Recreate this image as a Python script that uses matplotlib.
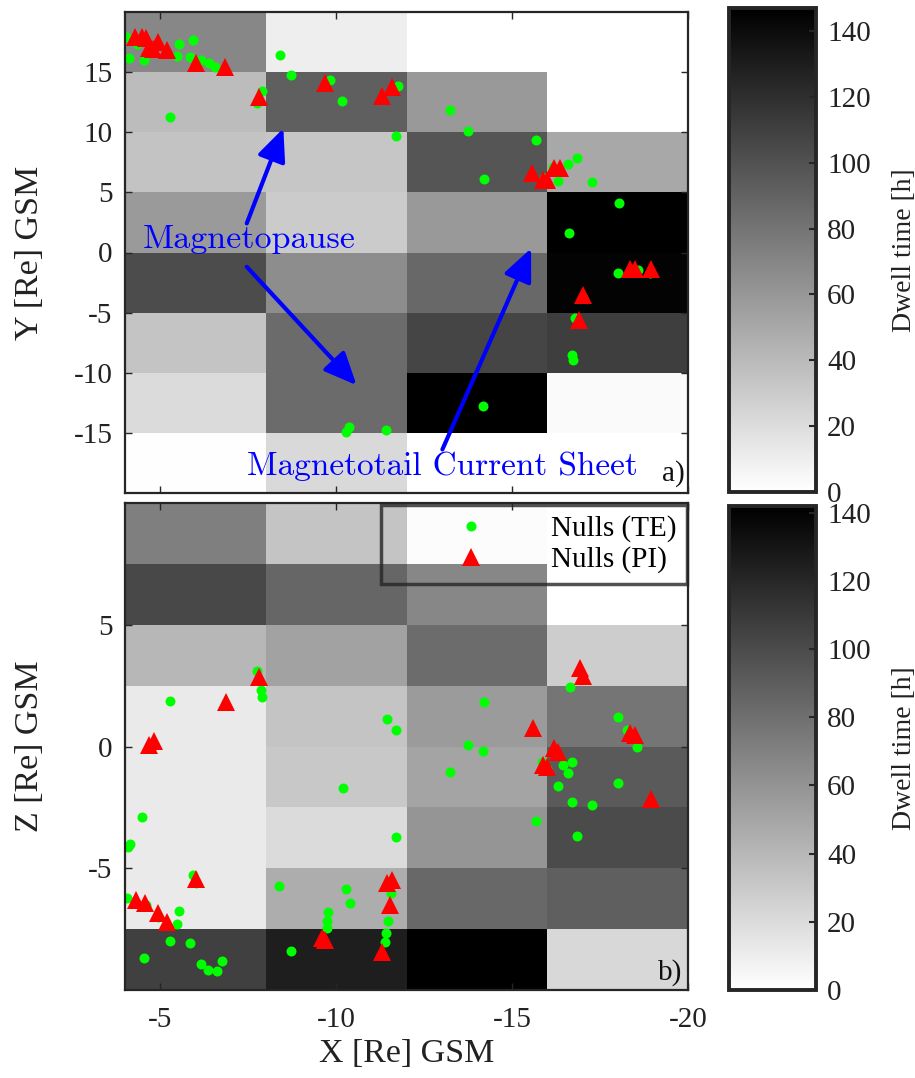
import numpy as np
import matplotlib
matplotlib.use('Agg')
import matplotlib.pyplot as plt

plt.rcParams['font.family'] = ['Liberation Serif', 'DejaVu Serif']
plt.rcParams['axes.unicode_minus'] = False

# ---------------- data ----------------
x_edges = [-4, -8, -12, -16, -20]
y_edges = [20, 15, 10, 5, 0, -5, -10, -15, -20]
z_edges = [10, 7.5, 5, 2.5, 0, -2.5, -5, -7.5, -10]

# dwell time [h], rows top -> bottom, columns X = -4..-8, -8..-12, -12..-16, -16..-20
dwell_xy = [
    [69, 10, 0, 0],
    [39, 92, 59, 0],
    [35, 33, 98, 50],
    [58, 30, 59, 150],
    [103, 66, 87, 145],
    [34, 85, 107, 111],
    [21, 85, 150, 3],
    [1, 22, 0, 0],
]
dwell_xz = [
    [71, 33, 2, 0],
    [102, 85, 67, 0],
    [40, 52, 82, 28],
    [12, 33, 56, 77],
    [12, 31, 51, 92],
    [12, 20, 59, 100],
    [12, 46, 84, 89],
    [106, 125, 145, 22],
]
vmax_xy = 147
vmax_xz = 142
cbar_ticks = [0, 20, 40, 60, 80, 100, 120, 140]

# nulls (TE) in X-Y plane
te_xy_x = [-4.03, -4.12, -4.54, -4.35, -5.54, -5.94, -5.49, -5.85, -6.15, -6.40, -6.56,
           -5.28, -7.88, -7.76, -8.40, -8.72, -9.83, -10.18, -11.75, -11.69, -13.25,
           -13.76, -14.21, -14.16, -10.37, -10.27, -11.43, -15.68, -16.84, -16.58,
           -16.31, -17.26, -18.04, -16.63, -18.00, -17.02, -16.79, -16.69, -16.72,
           -18.59, -18.92, -16.17, -15.90]
te_xy_y = [17.95, 16.15, 16.00, 17.30, 17.34, 17.67, 16.34, 16.28, 16.00, 15.80, 15.45,
           11.24, 13.40, 12.45, 16.42, 14.76, 14.34, 12.62, 13.84, 9.68, 11.87,
           10.13, 6.08, -12.78, -14.50, -14.92, -14.72, 9.35, 7.83, 7.35,
           5.97, 5.83, 4.08, 1.59, -1.74, -3.82, -5.48, -8.54, -8.95,
           -1.46, -1.74, 7.13, 6.20]
# nulls (PI) in X-Y plane
pi_xy_x = [-4.28, -4.47, -4.60, -4.69, -4.95, -4.80, -5.18, -6.02, -6.84, -7.81, -9.68,
           -11.29, -11.60, -15.57, -15.89, -16.00, -16.20, -16.36, -18.35, -18.49,
           -18.95, -17.02, -16.91]
pi_xy_y = [17.90, 17.95, 17.80, 16.98, 17.53, 16.90, 16.84, 15.78, 15.45, 12.90, 14.07,
           13.00, 13.73, 6.63, 6.02, 6.00, 7.00, 7.00, -1.41, -1.41,
           -1.41, -3.55, -5.63]

# nulls (TE) in X-Z plane
te_xz_x = [-7.74, -7.86, -7.88, -5.28, -4.47, -4.14, -4.09, -5.92, -6.02, -4.07, -5.54,
           -5.49, -5.28, -5.85, -4.54, -6.16, -6.37, -6.62, -6.77, -8.39, -8.72, -4.60,
           -4.95, -11.44, -11.69, -10.19, -11.69, -10.27, -10.39, -9.78, -9.75, -9.73,
           -11.56, -11.47, -11.41, -11.39, -14.21, -13.76, -14.16, -13.24, -16.64,
           -18.02, -18.26, -18.54, -16.71, -16.46, -16.58, -16.30, -18.02, -16.69,
           -17.26, -15.68, -16.84, -15.84, -15.98, -15.60]
te_xz_z = [3.11, 2.32, 2.02, 1.86, -2.91, -4.00, -4.11, -5.28, -5.62, -6.23, -6.76,
           -7.29, -7.99, -8.08, -8.70, -8.94, -9.18, -9.22, -8.81, -5.72, -8.40, -6.50,
           -7.00, 1.14, 0.68, -1.69, -3.73, -5.85, -6.44, -6.81, -7.15, -7.47,
           -6.03, -7.15, -7.67, -8.01, 1.82, 0.06, -0.17, -1.06, 2.43,
           1.22, 0.68, -0.03, -0.65, -0.76, -1.08, -1.62, -1.49, -2.29,
           -2.39, -3.05, -3.68, -0.62, -0.94, 0.60]
# nulls (PI) in X-Z plane
pi_xz_x = [-7.82, -6.87, -4.81, -4.69, -6.02, -4.31, -4.57, -4.95, -5.18, -11.60, -11.45,
           -11.53, -9.68, -9.60, -11.29, -16.93, -17.02, -15.60, -16.20, -16.31, -15.87,
           -15.98, -18.35, -18.49, -18.95]
pi_xz_z = [2.84, 1.82, 0.24, 0.06, -5.45, -6.30, -6.44, -6.82, -7.19, -5.48, -5.60,
           -6.51, -7.95, -7.85, -8.43, 3.21, 2.90, 0.75, -0.07, -0.21, -0.76,
           -0.83, 0.54, 0.47, -2.16]

x_ticks = [-5, -10, -15, -20]
y_ticks = [-15, -10, -5, 0, 5, 10, 15]
z_ticks = [-5, 0, 5]

# ---------------- figure ----------------
W, H = 915, 1078
fig = plt.figure(figsize=(W / 100, H / 100), dpi=100)


def rect(l, t, r, b):
    return [l / W, 1 - b / H, (r - l) / W, (b - t) / H]


ax1 = fig.add_axes(rect(125, 12, 688, 493))
ax2 = fig.add_axes(rect(125, 503, 688, 990))
cax1 = fig.add_axes(rect(729, 8, 816, 492))
cax2 = fig.add_axes(rect(729, 506, 816, 990))

frame_col = '#262626'
GREEN = '#00ff00'
RED = '#ff0000'

m1 = ax1.pcolormesh(x_edges, y_edges, np.array(dwell_xy), cmap='gray_r',
                    vmin=0, vmax=vmax_xy, shading='flat')
m2 = ax2.pcolormesh(x_edges, z_edges, np.array(dwell_xz), cmap='gray_r',
                    vmin=0, vmax=vmax_xz, shading='flat')

ax1.plot(te_xy_x, te_xy_y, 'o', color=GREEN, ms=7.2, mew=0, label='Nulls (TE)')
ax1.plot(pi_xy_x, pi_xy_y, '^', color=RED, ms=12.5, mew=0, label='Nulls (PI)')
ax2.plot(te_xz_x, te_xz_z, 'o', color=GREEN, ms=7.2, mew=0, label='Nulls (TE)')
ax2.plot(pi_xz_x, pi_xz_z, '^', color=RED, ms=12.5, mew=0, label='Nulls (PI)')

for ax in (ax1, ax2):
    ax.set_xlim(-4, -20)
    ax.set_xticks(x_ticks)
    ax.tick_params(direction='in', length=5, width=1, top=True, right=True,
                   labelsize=21, colors=frame_col, labelcolor='#222222')
    ax.tick_params(axis='y', pad=9)
    ax.tick_params(axis='x', pad=12)
    for s in ax.spines.values():
        s.set_color(frame_col)
        s.set_linewidth(1.6)

ax1.set_ylim(-20, 20)
ax1.set_yticks(y_ticks)
ax1.tick_params(labelbottom=False)
ax2.set_ylim(-10, 10)
ax2.set_yticks(z_ticks)

ax1.set_ylabel('Y [Re] GSM', fontsize=24.5, color='#222222')
ax1.yaxis.set_label_coords(-0.142, 0.5)
ax2.set_ylabel('Z [Re] GSM', fontsize=24.5, color='#222222')
ax2.yaxis.set_label_coords(-0.142, 0.5)
ax2.set_xlabel('X [Re] GSM', fontsize=24.5, color='#222222')
ax2.xaxis.set_label_coords(0.5, -0.100)

# panel letters
ax1.text(-19.9, -18.94, 'a)', fontsize=21, ha='right', va='baseline', color='#111111')
ax2.text(-19.83, -9.59, 'b)', fontsize=21, ha='right', va='baseline', color='#111111')

# annotations
arrow_kw = dict(arrowstyle='-|>,head_length=0.9,head_width=0.4', color='blue', lw=3,
                mutation_scale=22, shrinkA=0, shrinkB=0)
ax1.annotate('', xy=(-8.5, 10.32), xytext=(-7.46, 2.42), arrowprops=arrow_kw)
ax1.annotate('', xy=(-10.58, -11.03), xytext=(-7.46, -1.19), arrowprops=arrow_kw)
ax1.annotate('', xy=(-15.54, 0.34), xytext=(-13.02, -16.38), arrowprops=arrow_kw)
ax1.text(-4.51, 0.37, 'Magnetopause', family='cmr10', fontsize=24.5, color='blue',
         va='baseline', ha='left')
ax1.text(-7.47, -18.52, 'Magnetotail Current Sheet', family='cmr10', fontsize=24,
         color='blue', va='baseline', ha='left')

# legend
leg = ax2.legend(loc='upper right', bbox_to_anchor=(0.998, 0.996), borderaxespad=0,
                 frameon=True, fancybox=False, fontsize=21, handlelength=5.5,
                 handletextpad=0.0, borderpad=0.35, labelspacing=0.15)
leg.get_frame().set_facecolor('none')
leg.get_frame().set_edgecolor(frame_col)
leg.get_frame().set_linewidth(2.5)

# colorbars
for cax, m in ((cax1, m1), (cax2, m2)):
    cb = fig.colorbar(m, cax=cax, ticks=cbar_ticks)
    cb.outline.set_linewidth(2.8)
    cb.outline.set_edgecolor(frame_col)
    cax.tick_params(direction='in', length=5, width=1.5, labelsize=21, pad=8,
                    colors=frame_col, labelcolor='#222222')
    cb.set_label('Dwell time [h]', fontsize=20, color='#222222')
    cax.yaxis.set_label_coords(1.87, 0.5)

fig.savefig('out.png', dpi=100)
